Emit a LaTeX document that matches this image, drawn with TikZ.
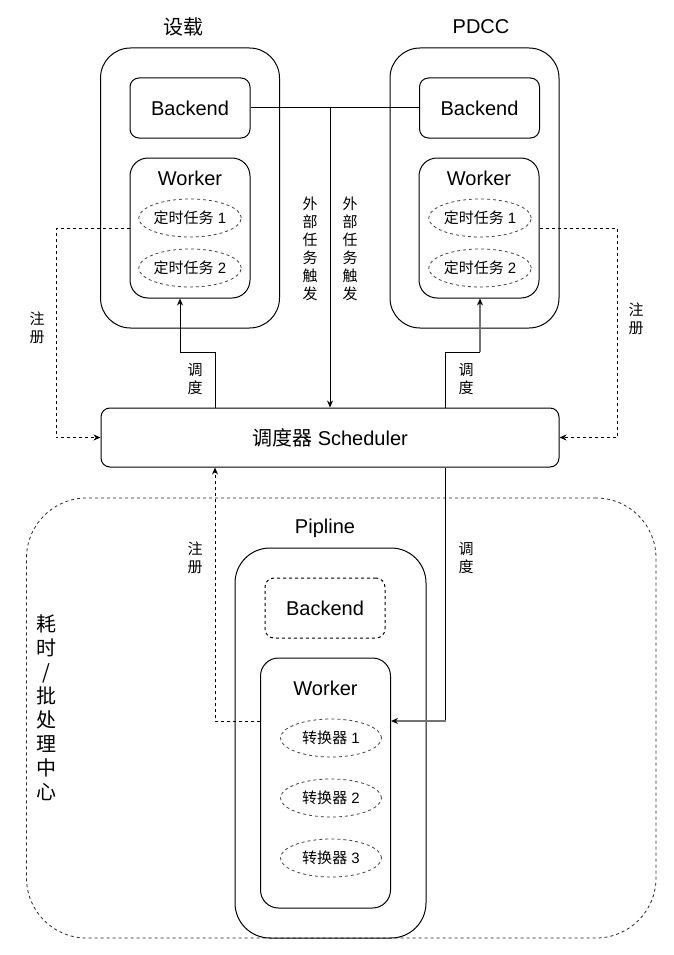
\documentclass[tikz,border=0pt]{standalone}
\usepackage{fontspec}
\setmainfont{Liberation Sans}
\newfontfamily\cjk{Noto Sans CJK SC}
\usetikzlibrary{shapes.geometric,arrows.meta,calc}
\begin{document}
\begin{tikzpicture}[x=1pt,y=-1pt,
  box/.style={draw, line width=1pt, rounded corners=#1, inner sep=0pt},
  box/.default=9pt,
  big/.style={font=\fontsize{20}{24}\selectfont, inner sep=0pt},
  small/.style={font=\cjk\fontsize{15}{18}\selectfont, align=center, inner sep=0pt},
  ell/.style={draw=black!75, ellipse, line width=0.8pt, dash pattern=on 3pt off 3pt,
     minimum width=101pt, minimum height=38pt, inner sep=0pt, font=\fontsize{15}{18}\selectfont},
  conn/.style={line width=1pt},
  arr/.style={conn, -{Stealth[length=7pt,width=6pt]}},
  garr/.style={line width=1.5pt, draw=black!55, -{Stealth[length=7pt,width=6pt,color=black]}},
  reg/.style={conn, dash pattern=on 3pt off 3pt},
  rega/.style={reg, -{Stealth[length=7pt,width=6pt]}}
]
\useasboundingbox (0,0) rectangle (673,955);

% ---- titles
\node[big, font=\cjk\fontsize{20}{24}\selectfont] (t1) at (183,27) {设载};
\node[big] (t2) at (481,27) {PDCC};

% ---- left system
\node[box=30pt, minimum width=179pt, minimum height=280pt] (lo) at (190,188) {};
\node[box, minimum width=120pt, minimum height=60pt, big] (lb) at (190,108) {Backend};
\node[box=18pt, minimum width=120pt, minimum height=140pt] (lw) at (190,228) {};
\node[big] (lwt) at (190,178) {Worker};
\node[ell] (le1) at (190,218) {{\cjk 定时任务} 1};
\node[ell] (le2) at (190,268) {{\cjk 定时任务} 2};

% ---- right system
\node[box=30pt, minimum width=169pt, minimum height=280pt] (ro) at (474.5,188) {};
\node[box, minimum width=120pt, minimum height=60pt, big] (rb) at (479.5,108) {Backend};
\node[box=18pt, minimum width=120pt, minimum height=140pt] (rw) at (479,228) {};
\node[big] (rwt) at (479,178) {Worker};
\node[ell] (re1) at (480,218) {{\cjk 定时任务} 1};
\node[ell] (re2) at (480,268) {{\cjk 定时任务} 2};

% ---- scheduler
\node[box, minimum width=458pt, minimum height=59pt] (sch) at (330,437.5) {};
\node[big] (scht) at (330,437.5) {{\cjk 调度器} Scheduler};

% ---- batch center
\node[draw=black!85, line width=0.8pt, dash pattern=on 3pt off 3pt, rounded corners=60pt,
      minimum width=629.5pt, minimum height=440pt, inner sep=0pt] (bc) at (341.25,718) {};
\node[font=\cjk\fontsize{20}{24}\selectfont, align=center, inner sep=0pt] (bct) at (46,707.5)
  {耗\\时\\/\\批\\处\\理\\中\\心};

\node[big] (pt) at (325,528) {Pipline};
\node[box=35pt, minimum width=191pt, minimum height=390pt] (po) at (330.5,743) {};
\node[box, dash pattern=on 3pt off 3pt, minimum width=120pt, minimum height=60pt, big] (pb) at (325,608) {Backend};
\node[box=18pt, minimum width=130pt, minimum height=250pt] (pw) at (325.5,783) {};
\node[big] (pwt) at (325.5,688) {Worker};
\node[ell] (pe1) at (331,738) {{\cjk 转换器} 1};
\node[ell] (pe2) at (331,798) {{\cjk 转换器} 2};
\node[ell] (pe3) at (331,858) {{\cjk 转换器} 3};

% ---- external trigger
\coordinate (j) at (330,108);
\draw[conn] (lb.east) -- (rb.west);
\draw[arr] (j) -- (j |- sch.north);
\node[small] (ext1) at (310,249) {外\\部\\任\\务\\触\\发};
\node[small] (ext2) at (350,249) {外\\部\\任\\务\\触\\发};

% ---- dispatch to left worker
\coordinate (ls) at (215,408);
\coordinate (lk) at (180,352);
\draw[conn] (ls) |- (lk);
\draw[arr] (lk) -- (lk |- lw.south);
\node[small] (ld) at (195,379) {调\\度};

% ---- dispatch to right worker
\coordinate (rs) at (445,408);
\coordinate (rk) at (480,352);
\draw[conn] (rs) |- (rk);
\draw[garr] (rk) -- (rk |- rw.south);
\node[small] (rd) at (466,379) {调\\度};

% ---- registration left/right
\coordinate (lr) at (56,228);
\draw[rega] (lw.west) -- (lr) |- (sch.west);
\node[small] (lrt) at (37,328) {注\\册};
\coordinate (rr) at (617,228);
\draw[rega] (rw.east) -- (rr) |- (sch.east);
\node[small] (rrt) at (636,319) {注\\册};

% ---- pipeline registration and dispatch
\coordinate (pr) at (215,721);
\draw[rega] (pw.west |- pr) -- (pr) -- (pr |- sch.south);
\node[small] (prt) at (195,558) {注\\册};
\coordinate (pd) at (445.5,721);
\draw[conn] (pd |- sch.south) -- (pd);
\draw[garr] (pd) -- (pw.east |- pd);
\node[small] (pdt) at (466,558) {调\\度};
\end{tikzpicture}
\end{document}
